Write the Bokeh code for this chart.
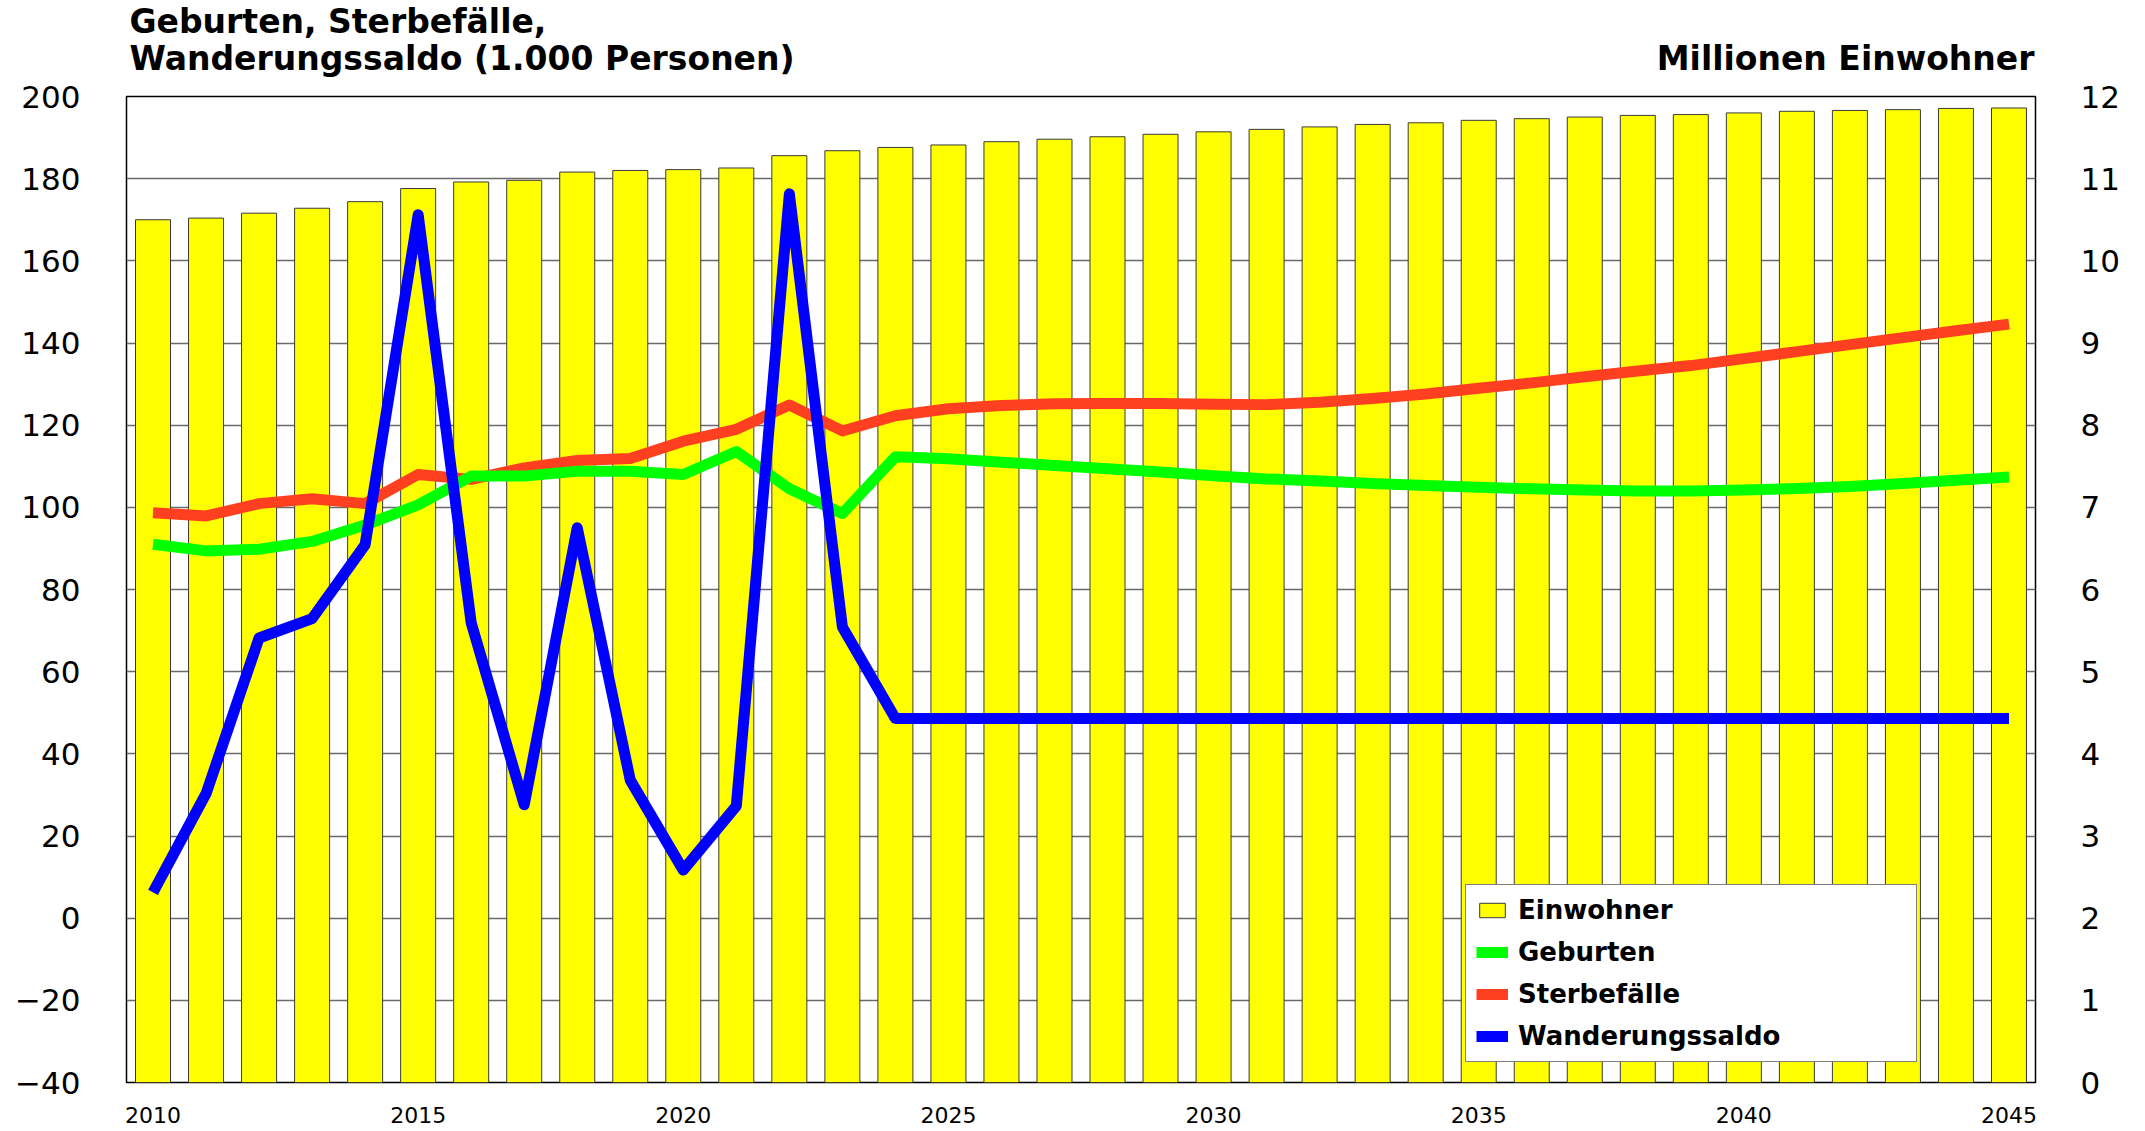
from bokeh.plotting import figure
from bokeh.layouts import column
from bokeh.models import Range1d, LinearAxis, FixedTicker, Legend, LegendItem
from bokeh.core.properties import value
from bokeh.embed import file_html
from bokeh.resources import INLINE

# ---------------- data ----------------
years = list(range(2010, 2046))

# Einwohner in Millionen (right axis)
einwohner = [10.50, 10.52, 10.58, 10.64, 10.72, 10.88, 10.96, 10.98, 11.08, 11.10,
             11.11, 11.13, 11.28, 11.34, 11.38, 11.41, 11.45, 11.48, 11.51, 11.54,
             11.57, 11.60, 11.63, 11.66, 11.68, 11.71, 11.73, 11.75, 11.77, 11.78,
             11.80, 11.82, 11.83, 11.84, 11.855, 11.86]

# in 1.000 Personen (left axis)
geburten = [91.0, 89.4, 89.8, 91.7, 95.7, 100.6, 107.6, 107.6, 108.8, 108.8,
            108.0, 113.6, 104.5, 98.5, 112.3, 111.8, 111.0, 110.2, 109.4, 108.6,
            107.7, 106.9, 106.4, 105.8, 105.3, 104.9, 104.5, 104.2, 104.0, 104.0,
            104.2, 104.6, 105.1, 105.8, 106.6, 107.4]

sterbefaelle = [98.7, 97.9, 100.9, 102.1, 100.9, 108.0, 106.8, 109.6, 111.4, 111.9,
                116.1, 119.0, 124.9, 118.6, 122.3, 124.0, 124.8, 125.2, 125.3, 125.3,
                125.1, 125.0, 125.6, 126.5, 127.6, 129.0, 130.3, 131.8, 133.2, 134.5,
                136.2, 137.9, 139.6, 141.3, 143.0, 144.6]

wanderungssaldo = [6.3, 30.3, 68.2, 72.9, 90.9, 171.2, 71.9, 27.6, 95.0, 33.6,
                   11.7, 27.3, 176.3, 70.9, 48.6, 48.6, 48.6, 48.6, 48.6, 48.6,
                   48.6, 48.6, 48.6, 48.6, 48.6, 48.6, 48.6, 48.6, 48.6, 48.6,
                   48.6, 48.6, 48.6, 48.6, 48.6, 48.6]

left_ticks = [-40, -20, 0, 20, 40, 60, 80, 100, 120, 140, 160, 180, 200]
right_ticks = [0, 1, 2, 3, 4, 5, 6, 7, 8, 9, 10, 11, 12]
x_ticks = [2010, 2015, 2020, 2025, 2030, 2035, 2040, 2045]

title_line1 = "Geburten, Sterbefälle,"
title_line2 = "Wanderungssaldo (1.000 Personen)"
right_title = "Millionen Einwohner"
series_names = ["Einwohner", "Geburten", "Sterbefälle", "Wanderungssaldo"]

FONT = "DejaVu Sans"
W = 2140
FRAME_L, FRAME_R = 126, 2035
TOP_H = 80
MAIN_H = 1130 - TOP_H

# ---------------- title strip (frame aligned with the chart frame; page px) ----------------
pt = figure(width=W, height=TOP_H, x_range=Range1d(FRAME_L, FRAME_R),
            y_range=Range1d(TOP_H, 0),
            output_backend="svg", toolbar_location=None,
            min_border=0, min_border_left=FRAME_L, min_border_right=W - FRAME_R,
            min_border_top=0, min_border_bottom=0)
pt.outline_line_color = None
pt.axis.visible = False
pt.grid.visible = False
pt.background_fill_color = "white"
pt.border_fill_color = "white"
pt.text(x=[129, 129], y=[21, 58], text=[title_line1, title_line2],
        text_font=value(FONT), text_font_style="bold", text_font_size="33px",
        text_align="left", text_baseline="alphabetic", text_color="black")
pt.text(x=[2034], y=[58], text=[right_title],
        text_font=value(FONT), text_font_style="bold", text_font_size="33px",
        text_align="right", text_baseline="alphabetic", text_color="black")

# ---------------- main chart ----------------
p = figure(width=W, height=MAIN_H,
           x_range=Range1d(2009.5, 2045.5), y_range=Range1d(-40, 200),
           output_backend="svg", toolbar_location=None,
           min_border_left=FRAME_L, min_border_right=W - FRAME_R,
           min_border_top=96 - TOP_H, min_border_bottom=48)

p.background_fill_color = "white"
p.border_fill_color = "white"
p.outline_line_color = "black"
p.outline_line_width = 1.5

p.extra_y_ranges = {"pop": Range1d(0, 12)}

p.xgrid.visible = False
p.ygrid.ticker = FixedTicker(ticks=left_ticks)
p.ygrid.grid_line_color = "#6a6a6a"
p.ygrid.grid_line_width = 1.6


def style_axis(ax, size, standoff):
    ax.axis_line_color = None
    ax.major_tick_line_color = None
    ax.minor_tick_line_color = None
    ax.major_tick_out = 0
    ax.major_tick_in = 0
    ax.major_label_text_font = FONT
    ax.major_label_text_font_size = size
    ax.major_label_text_color = "black"
    ax.major_label_standoff = standoff


p.yaxis.ticker = FixedTicker(ticks=left_ticks)
style_axis(p.yaxis[0], "31px", 46)

p.xaxis.ticker = FixedTicker(ticks=x_ticks)
style_axis(p.xaxis[0], "22px", 24)

right_axis = LinearAxis(y_range_name="pop", ticker=FixedTicker(ticks=right_ticks))
style_axis(right_axis, "31px", 45)
p.add_layout(right_axis, "right")

bars = p.vbar(x=years, top=einwohner, bottom=0, width=0.66, y_range_name="pop",
              fill_color="#FFFF00", line_color="#3a3a3a", line_width=1)

r_red = p.line(years, sterbefaelle, line_color="#FF4020", line_width=11,
               line_join="round")
r_green = p.line(years, geburten, line_color="#00FF00", line_width=11,
                 line_join="round")
r_blue = p.line(years, wanderungssaldo, line_color="#0000FF", line_width=11,
                line_join="round")

legend = Legend(items=[
    LegendItem(label=series_names[0], renderers=[bars]),
    LegendItem(label=series_names[1], renderers=[r_green]),
    LegendItem(label=series_names[2], renderers=[r_red]),
    LegendItem(label=series_names[3], renderers=[r_blue]),
], location=(1339, 20))
legend.margin = 0
legend.padding = 10
legend.spacing = 12
legend.glyph_width = 32
legend.glyph_height = 18
legend.label_height = 30
legend.label_width = 388
legend.label_standoff = 10
legend.label_text_font = FONT
legend.label_text_font_style = "bold"
legend.label_text_font_size = "26px"
legend.label_text_color = "black"
legend.border_line_color = "black"
legend.border_line_width = 1.5
legend.background_fill_color = "white"
legend.background_fill_alpha = 1.0
p.add_layout(legend, "center")

layout = column(pt, p, spacing=0)
open("out.html", "w").write(file_html(layout, INLINE))
